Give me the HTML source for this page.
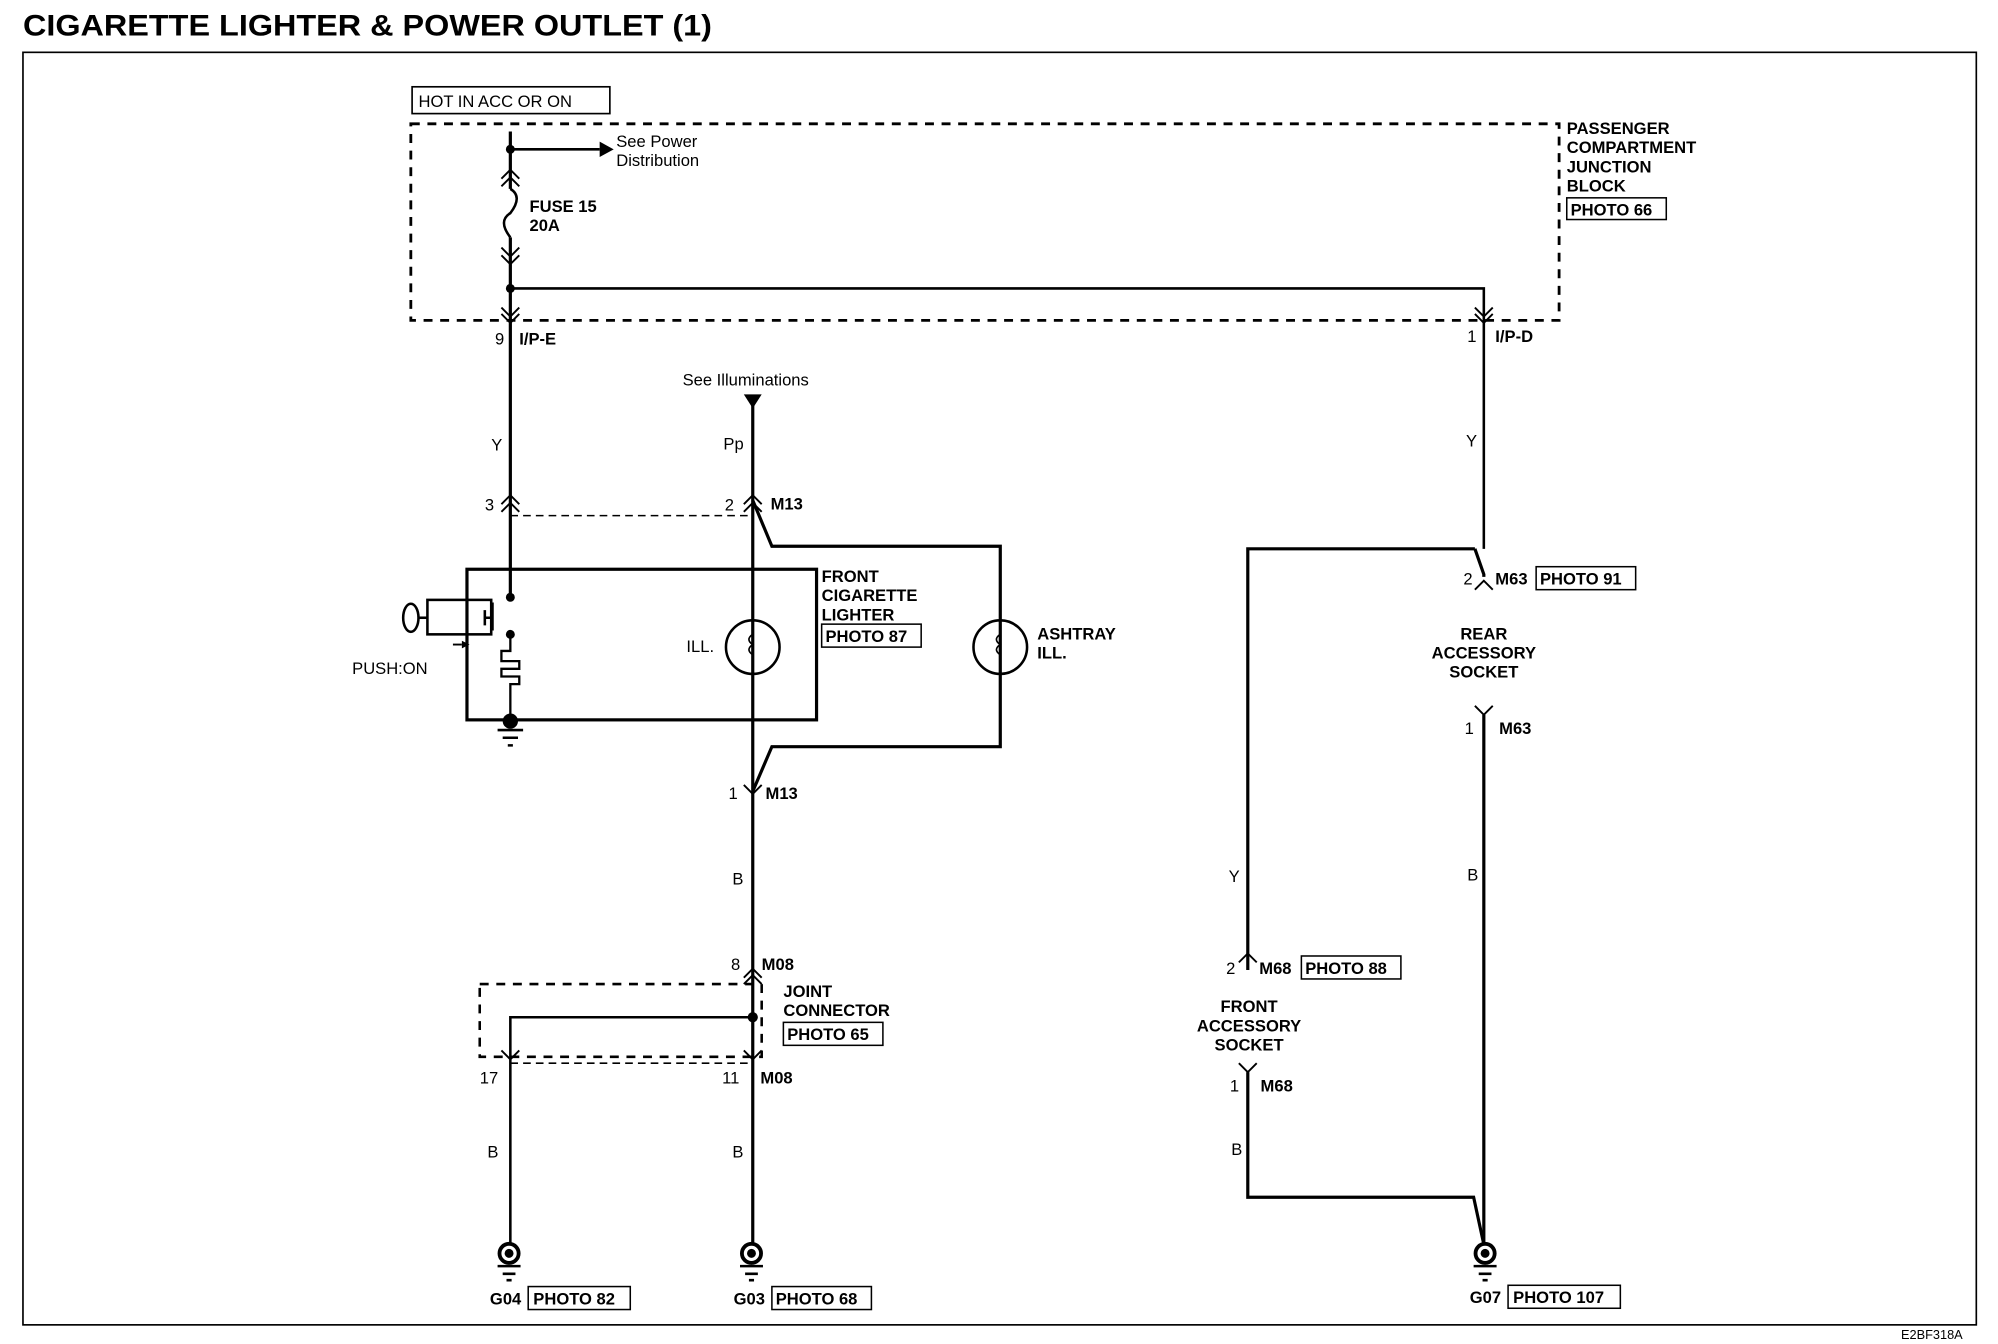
<!DOCTYPE html>
<html><head><meta charset="utf-8"><style>
html,body{margin:0;padding:0;background:#fff;}
svg{display:block;}
text{font-family:"Liberation Sans",sans-serif;fill:#000;}
.b{font-weight:bold;}
</style></head><body>
<svg width="1998" height="1344" viewBox="0 0 1566 1053" preserveAspectRatio="none" xmlns="http://www.w3.org/2000/svg">
<rect width="1566" height="1053" fill="#fff"/>
<text x="18" y="28" class="b" font-size="23" textLength="540" lengthAdjust="spacingAndGlyphs">CIGARETTE LIGHTER &amp; POWER OUTLET (1)</text>
<rect x="18" y="41" width="1531" height="997" fill="none" stroke="#000" stroke-width="1.3"/>
<text x="1490" y="1049" font-size="10">E2BF318A</text>

<g fill="none" stroke="#000">
<rect x="323" y="68" width="155" height="21" stroke-width="1.3"/>
<rect x="322" y="97" width="900" height="154" stroke-width="2.2" stroke-dasharray="7,6"/>
<rect x="376" y="771" width="221" height="57" stroke-width="2" stroke-dasharray="7,6"/>
<line x1="400" y1="404" x2="590" y2="404" stroke-width="1.2" stroke-dasharray="6,4"/>
<line x1="400" y1="833" x2="590" y2="833" stroke-width="1.2" stroke-dasharray="6,4"/>
</g>

<g fill="none" stroke="#000" stroke-width="2.5">
<path d="M400 103 V148 M400 186 V470"/>
<path d="M400 148 q10 6 0 19 q-10 6 0 19" stroke-width="2"/>
<line x1="400" y1="117" x2="470" y2="117" stroke-width="2"/>
<path d="M400 226 H1163 V430" stroke-width="2"/>
<path d="M1156 430 H978 V760 M1156 430 L1163 450 V452"/>
<path d="M1163 560 V975"/>
<path d="M978 840 V938 H1155 L1163 975"/>
<path d="M590 310 V975"/>
<path d="M590 392 L605 428 H784 V585 H605 L590 620"/>
<path d="M590 797 H400 V975" stroke-width="2"/>
<rect x="366" y="446" width="274" height="118"/>
<circle cx="590" cy="507" r="21" stroke-width="2"/>
<circle cx="784" cy="507" r="21" stroke-width="2"/>
<path d="M590 497 q-6 4 0 8 q-6 4 0 8 M784 497 q-6 4 0 8 q-6 4 0 8" stroke-width="1.3"/>
<rect x="335" y="470" width="50" height="27" stroke-width="2"/>
<ellipse cx="322" cy="484" rx="6" ry="11" stroke-width="2"/>
<line x1="328" y1="484" x2="335" y2="484" stroke-width="2"/>
<path d="M386 472 V494 M386 484 H380 V478 M380 490 V484" stroke-width="2"/>
<path d="M400 497 V510 H393 V518 H407 V524 H393 V530 H407 V536 H400 V565" stroke-width="1.8"/>
<line x1="355" y1="505" x2="362" y2="505" stroke-width="1.5"/>
<path d="M390 572 H410 M394 578 H406 M398 584 H402" stroke-width="2"/>
<circle cx="399" cy="982" r="7.5" stroke-width="3"/>
<circle cx="589" cy="982" r="7.5" stroke-width="3"/>
<circle cx="1164" cy="982" r="7.5" stroke-width="3"/>
<path d="M390 992 H408 M394 998 H404 M397 1003 H401 M580 992 H598 M584 998 H594 M587 1003 H591 M1155 992 H1173 M1159 998 H1169 M1162 1003 H1166" stroke-width="2"/>
<g stroke-width="1.5">
<path d="M393 140 L400 133 L407 140 M393 146 L400 139 L407 146"/>
<path d="M393 194 L400 201 L407 194 M393 200 L400 207 L407 200"/>
<path d="M393 241 L400 248 L407 241 M393 246 L400 253 L407 246"/>
<path d="M1156 241 L1163 248 L1170 241 M1156 246 L1163 253 L1170 246"/>
<path d="M393 395 L400 388 L407 395 M393 401 L400 394 L407 401"/>
<path d="M583 395 L590 388 L597 395 M583 401 L590 394 L597 401"/>
<path d="M583 615 L590 622 L597 615"/>
<path d="M583 766 L590 759 L597 766 M583 771 L590 764 L597 771"/>
<path d="M393 823 L400 830 L407 823 M583 823 L590 830 L597 823"/>
<path d="M1156 462 L1163 455 L1170 462"/>
<path d="M1156 553 L1163 560 L1170 553"/>
<path d="M971 754 L978 747 L985 754"/>
<path d="M971 833 L978 840 L985 833"/>
</g>
</g>
<g fill="#000">
<circle cx="400" cy="117" r="3.5"/><circle cx="400" cy="226" r="3.5"/>
<circle cx="400" cy="468" r="3.5"/><circle cx="400" cy="497" r="3.5"/>
<circle cx="400" cy="565" r="6"/><circle cx="590" cy="797" r="4"/>
<circle cx="399" cy="982" r="3.5"/><circle cx="589" cy="982" r="3.5"/><circle cx="1164" cy="982" r="3.5"/>
<path d="M470 111 L481 117 L470 123 Z"/>
<path d="M583 309 L597 309 L590 320 Z"/>
<path d="M362 502 L368 505 L362 508 Z"/>
</g>

<g font-size="13">
<text x="328" y="84">HOT IN ACC OR ON</text>
<text x="483" y="115">See Power</text>
<text x="483" y="130">Distribution</text>
<text x="535" y="302">See Illuminations</text>
<text x="388" y="270">9</text>
<text x="1150" y="268">1</text>
<text x="385" y="353">Y</text>
<text x="567" y="352">Pp</text>
<text x="1149" y="350">Y</text>
<text x="380" y="400">3</text>
<text x="568" y="400">2</text>
<text x="538" y="511">ILL.</text>
<text x="276" y="528">PUSH:ON</text>
<text x="571" y="626">1</text>
<text x="574" y="693">B</text>
<text x="573" y="760">8</text>
<text x="376" y="849">17</text>
<text x="566" y="849">11</text>
<text x="382" y="907">B</text>
<text x="574" y="907">B</text>
<text x="1147" y="458">2</text>
<text x="1148" y="575">1</text>
<text x="1150" y="690">B</text>
<text x="963" y="691">Y</text>
<text x="961" y="763">2</text>
<text x="964" y="855">1</text>
<text x="965" y="905">B</text>
</g>
<g font-size="13" class="b">
<text x="415" y="166">FUSE 15</text>
<text x="415" y="181">20A</text>
<text x="407" y="270">I/P-E</text>
<text x="1172" y="268">I/P-D</text>
<text x="1228" y="105">PASSENGER</text>
<text x="1228" y="120">COMPARTMENT</text>
<text x="1228" y="135">JUNCTION</text>
<text x="1228" y="150">BLOCK</text>
<text x="1231" y="169">PHOTO 66</text>
<text x="604" y="399">M13</text>
<text x="644" y="456">FRONT</text>
<text x="644" y="471">CIGARETTE</text>
<text x="644" y="486">LIGHTER</text>
<text x="647" y="503">PHOTO 87</text>
<text x="813" y="501">ASHTRAY</text>
<text x="813" y="516">ILL.</text>
<text x="600" y="626">M13</text>
<text x="597" y="760">M08</text>
<text x="614" y="781">JOINT</text>
<text x="614" y="796">CONNECTOR</text>
<text x="617" y="815">PHOTO 65</text>
<text x="596" y="849">M08</text>
<text x="384" y="1022">G04</text>
<text x="418" y="1022">PHOTO 82</text>
<text x="575" y="1022">G03</text>
<text x="608" y="1022">PHOTO 68</text>
<text x="1152" y="1021">G07</text>
<text x="1186" y="1021">PHOTO 107</text>
<text x="1172" y="458">M63</text>
<text x="1207" y="458">PHOTO 91</text>
<text x="1163" y="501" text-anchor="middle">REAR</text>
<text x="1163" y="516" text-anchor="middle">ACCESSORY</text>
<text x="1163" y="531" text-anchor="middle">SOCKET</text>
<text x="1175" y="575">M63</text>
<text x="987" y="763">M68</text>
<text x="1023" y="763">PHOTO 88</text>
<text x="979" y="793" text-anchor="middle">FRONT</text>
<text x="979" y="808" text-anchor="middle">ACCESSORY</text>
<text x="979" y="823" text-anchor="middle">SOCKET</text>
<text x="988" y="855">M68</text>
</g>
<g fill="none" stroke="#000" stroke-width="1.2">
<rect x="1228" y="155" width="78" height="17"/>
<rect x="644" y="489" width="78" height="18"/>
<rect x="614" y="801" width="78" height="18"/>
<rect x="414" y="1008" width="80" height="18"/>
<rect x="605" y="1008" width="78" height="18"/>
<rect x="1182" y="1007" width="88" height="18"/>
<rect x="1204" y="444" width="78" height="18"/>
<rect x="1020" y="749" width="78" height="18"/>
</g>
</svg>
</body></html>
